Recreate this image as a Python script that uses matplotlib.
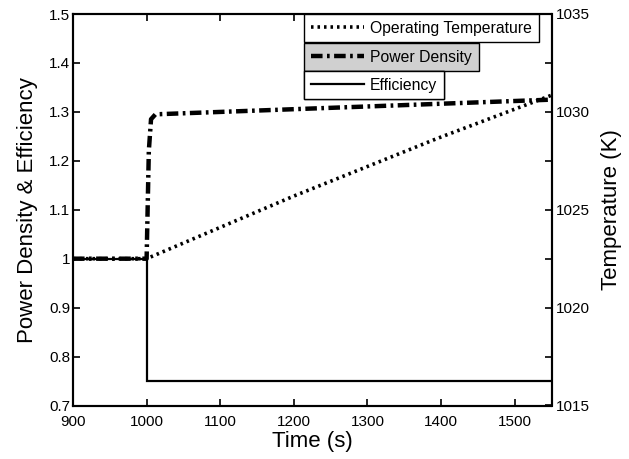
import matplotlib
matplotlib.use("Agg")
import matplotlib.pyplot as plt
from matplotlib.lines import Line2D

plt.rcParams['font.family'] = ['Liberation Sans', 'DejaVu Sans']

# Data
eff_t = [900, 1000, 1000, 1550]
eff_v = [1.0, 1.0, 0.75, 0.75]

pd_t = [900, 1000, 1003, 1006, 1012, 1550]
pd_v = [1.0, 1.0, 1.22, 1.285, 1.295, 1.325]

temp_t = [900, 1000, 1200, 1396, 1550]
temp_v = [1022.5, 1022.5, 1025.7, 1028.66, 1030.85]

xticks = [900, 1000, 1100, 1200, 1300, 1400, 1500]
yticks_left = [0.7, 0.8, 0.9, 1.0, 1.1, 1.2, 1.3, 1.4, 1.5]
yticklabels_left = ['0.7', '0.8', '0.9', '1', '1.1', '1.2', '1.3', '1.4', '1.5']
yticks_right = [1015, 1017.5, 1020, 1022.5, 1025, 1027.5, 1030, 1032.5, 1035]
yticklabels_right = ['1015', '', '1020', '', '1025', '', '1030', '', '1035']

fig = plt.figure(figsize=(6.29, 4.59), dpi=100)
ax = fig.add_axes([73/629, 1-405.5/459, (551.5-73)/629, (405.5-14)/459])
ax2 = ax.twinx()

lw_sp = 1.5
ax.plot(eff_t, eff_v, color='black', lw=1.6, solid_joinstyle='miter')
pd_line, = ax.plot(pd_t, pd_v, color='black', lw=3.2, dashes=(2.6, 1.0, 0.6, 1.0),
                   dash_capstyle='butt')
temp_line, = ax2.plot(temp_t, temp_v, color='black', lw=2.6, dashes=(0.7, 1.1),
                      dash_capstyle='butt')

ax.set_xlim(900, 1550)
ax.set_ylim(0.7, 1.5)
ax2.set_ylim(1015, 1035)

ax.set_xticks(xticks)
ax.set_xticklabels([str(x) for x in xticks])
ax.set_yticks(yticks_left)
ax.set_yticklabels(yticklabels_left)
ax2.set_yticks(yticks_right)
ax2.set_yticklabels(yticklabels_right)

for a in (ax, ax2):
    for s in a.spines.values():
        s.set_linewidth(lw_sp)
ax.tick_params(axis='x', direction='in', top=True, length=5, width=1.2, labelsize=11, pad=6.5)
ax.tick_params(axis='y', direction='in', left=True, right=False, length=5, width=1.2, labelsize=11, pad=2)
ax2.tick_params(axis='y', direction='in', length=5, width=1.2, labelsize=11, pad=3)

ax.set_xlabel('Time (s)', fontsize=16, labelpad=2)
ax.set_ylabel('Power Density & Efficiency', fontsize=16, labelpad=8)
ax2.set_ylabel('Temperature (K)', fontsize=16, labelpad=8)

# Stacked legend boxes
legend_specs = [
    (temp_line, 'Operating Temperature', 'white', (405.5 - 14) / 391.5),
    (pd_line, 'Power Density', '#d0d0d0', (405.5 - 43) / 391.5),
    (Line2D([], [], color='black', lw=1.6), 'Efficiency', 'white', (405.5 - 71) / 391.5),
]
x0 = (304 - 73) / (551.5 - 73)
for h, lab, fc, ytop in legend_specs:
    leg = ax2.legend([h], [lab], loc='upper left', bbox_to_anchor=(x0, ytop),
                     frameon=True, fancybox=False, fontsize=11.3, handlelength=3.4,
                     handletextpad=0.4, borderpad=0.42, borderaxespad=0.0,
                     facecolor=fc, edgecolor='black', framealpha=1)
    leg.get_frame().set_linewidth(1.0)
    ax2.add_artist(leg)

fig.savefig('out.png', dpi=100)
